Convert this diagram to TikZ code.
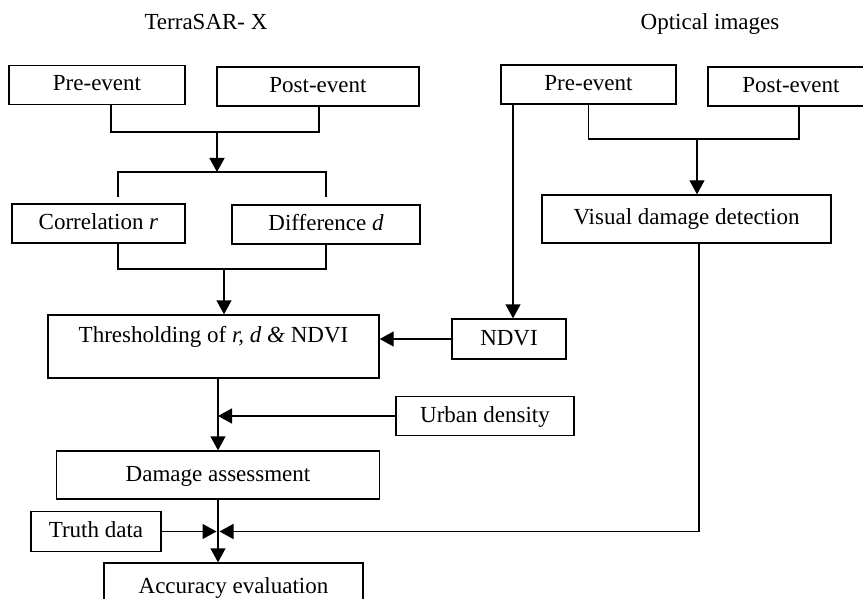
\documentclass[tikz,border=0pt]{standalone}
\usepackage{fontspec}
\setmainfont{Liberation Serif}
\usetikzlibrary{arrows.meta,positioning}

\tikzset{
  box/.style={draw, line width=1.4pt, minimum height=39pt, inner sep=0pt,
    text height=15pt, text depth=3pt, font=\fontsize{23}{27}\selectfont},
  title/.style={anchor=base, inner sep=0pt, font=\fontsize{23}{27}\selectfont},
  ln/.style={line width=1.4pt},
  arr/.style={line width=1.4pt, -{Triangle[length=14pt,width=15pt]}}
}

\begin{document}
\begin{tikzpicture}[x=1pt,y=-1pt]
\useasboundingbox (0,0) rectangle (863,599);

\node[title] (sar) at (206,30) {TerraSAR- X};
\node[title] (opt) at (710,30) {Optical images};

% left column
\node[box, minimum width=176pt] (preL) at (97,85) {Pre-event};
\node[box, minimum width=202pt] (postL) at (318,86.5) {Post-event};
\node[box, minimum width=173pt] (corr) at (98.5,223.5) {Correlation \textit{r}};
\node[box, minimum width=188pt] (diff) at (326,224.5) {Difference \textit{d}};
\node[box, minimum width=331pt, minimum height=63pt, text depth=24pt] (thr) at (213.5,346.5) {Thresholding of \textit{r, d \&} NDVI};
\node[box, minimum width=323pt, minimum height=48pt] (dmg) at (218,475) {Damage assessment};
\node[box, minimum width=130pt, minimum height=40pt] (truth) at (96,531.5) {Truth data};
\node[box, minimum width=259pt, minimum height=48pt] (acc) at (233.5,587) {Accuracy evaluation};

% right column
\node[box, minimum width=175pt] (preR) at (588.5,84.5) {Pre-event};
\node[box, minimum width=166pt] (postR) at (791,86.5) {Post-event};
\node[box, minimum width=289pt, minimum height=48pt] (vis) at (686.5,219) {Visual damage detection};
\node[box, minimum width=114pt, minimum height=40pt] (ndvi) at (509,339) {NDVI};
\node[box, minimum width=178pt] (urban) at (485,416) {Urban density};

\coordinate (j1) at (217,132);
\coordinate (j2) at (217,172);
\coordinate (c1) at (118,197);
\coordinate (c2) at (326,197);
\coordinate (j3) at (224,269);
\coordinate (j4) at (697,139);
\coordinate (m) at (218,531.5);

\draw[ln] ([xshift=14pt]preL.south) |- (j1) -| ([xshift=1pt]postL.south);
\draw[arr] (j1) -- (j2);
\draw[ln] (c1) |- (j2) -| (c2);
\draw[ln] ([xshift=19.5pt]corr.south) |- (j3) -| (diff.south);
\draw[arr] (j3) -- (j3 |- thr.north);
\draw[arr] (ndvi.west) -- (ndvi.west -| thr.east);
\draw[arr] (thr.south -| dmg.north) -- (dmg.north);
\draw[arr] (urban.west) -- (urban.west -| dmg.north);
\draw[arr] (dmg.south) -- (dmg.south |- acc.north);
\draw[arr] (truth.east) -- ([xshift=-1.5pt]m);
\draw[arr] ([xshift=12.5pt]vis.south) |- ([xshift=1.5pt]m);

\draw[ln] (preR.south) |- (j4) -| ([xshift=8pt]postR.south);
\draw[arr] (j4) -- (j4 |- vis.north);
\draw[arr] ([xshift=4pt]ndvi.north |- preR.south) -- ([xshift=4pt]ndvi.north);
\end{tikzpicture}
\end{document}
